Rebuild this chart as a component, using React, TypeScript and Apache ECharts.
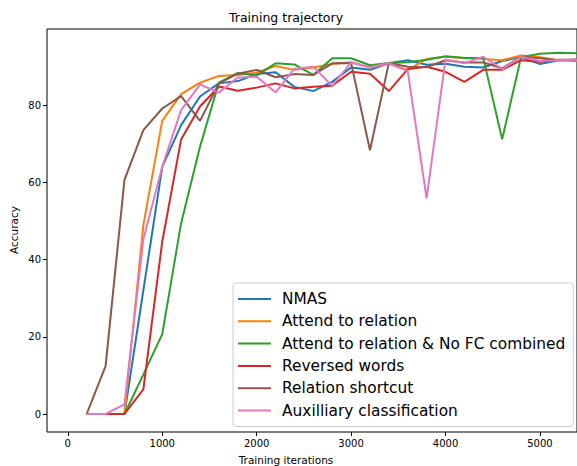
import React, { useEffect, useRef } from "react";
import * as echarts from "echarts";

const iterations = [200, 400, 600, 800, 1000, 1200, 1400, 1600, 1800, 2000, 2200, 2400, 2600, 2800, 3000, 3200, 3400, 3600, 3800, 4000, 4200, 4400, 4600, 4800, 5000, 5200, 5400];

const seriesNames = [
  "NMAS",
  "Attend to relation",
  "Attend to relation & No FC combined",
  "Reversed words",
  "Relation shortcut",
  "Auxilliary classification",
];

const nmas = [0, 0, 0, 32, 64, 74.8, 82.2, 85.6, 86.2, 88, 88.5, 84.7, 83.6, 86, 89.7, 89.1, 90.8, 91.6, 90.4, 90.7, 89.9, 89.7, 91.4, 92.4, 90.6, 91.6, 91.7];
const attendRelation = [0, 0, 0, 48.9, 75.9, 82.8, 85.8, 87.5, 87.8, 88.4, 90.1, 89.1, 89.7, 90.6, 91.1, 89.7, 90.7, 89.1, 91.9, 92.5, 92.2, 91.9, 91.6, 92.8, 92.4, 91.6, 91.3];
const attendNoFC = [0, 0, 0, 10.2, 20.7, 49.4, 69.2, 85.8, 88.3, 87.6, 90.8, 90.5, 87.8, 92.1, 92.1, 90.3, 90.9, 91.1, 91.7, 92.6, 92.2, 92.2, 71.1, 92.4, 93.3, 93.5, 93.4];
const reversedWords = [0, 0, 0, 6.4, 44.6, 71.1, 79.6, 84.8, 83.7, 84.5, 85.6, 84.3, 84.7, 85, 88.6, 88.1, 83.6, 89.3, 89.9, 88.6, 86, 89.1, 89.1, 91.6, 91.2, 91.7, 91.7];
const relationShortcut = [0, 12.4, 60.6, 73.5, 79.1, 82.3, 75.9, 85.6, 88.1, 89.1, 87.2, 88, 87.8, 90.8, 90.9, 68.3, 90.9, 89.9, 89.8, 91.6, 91, 91, 89.5, 92.5, 92.1, 91.6, 91.7];
const auxClassification = [0, 0, 2.5, 45.2, 64, 78.7, 85.3, 83.2, 87.1, 87.3, 83.3, 89.4, 89.9, 85, 91, 89.8, 90.8, 88.8, 55.8, 91.8, 90.8, 92.5, 89.3, 92.5, 91.4, 91.6, 91.7];

const allValues = [nmas, attendRelation, attendNoFC, reversedWords, relationShortcut, auxClassification];
const colors = ["#1f77b4", "#ff7f0e", "#2ca02c", "#d62728", "#8c564b", "#e377c2"];

const xTicks = [0, 1000, 2000, 3000, 4000, 5000];
const yTicks = [0, 20, 40, 60, 80];

const FONT = "DejaVu Sans";

export default function App() {
  const ref = useRef<HTMLDivElement>(null);

  useEffect(() => {
    if (!ref.current) return;
    const chart = echarts.init(ref.current, undefined, { renderer: "svg" });
    const option: any = {
      animation: false,
      backgroundColor: "#ffffff",
      grid: {
        left: 47,
        top: 29,
        width: 545,
        height: 403,
        show: true,
        borderColor: "#000000",
        borderWidth: 1,
        backgroundColor: "transparent",
      },
      xAxis: {
        type: "value",
        min: -220.4,
        max: 5392.4,
        splitLine: { show: false },
        axisLine: { show: false, onZero: false },
        axisTick: {
          show: true,
          length: 4,
          customValues: xTicks,
          lineStyle: { color: "#000000", width: 1 },
        },
        axisLabel: {
          customValues: xTicks,
          formatter: (v: number) => String(v),
          color: "#000000",
          fontSize: 10,
          fontFamily: FONT,
          margin: 6,
        },
      },
      yAxis: {
        type: "value",
        min: -4.66,
        max: 99.68,
        splitLine: { show: false },
        axisLine: { show: false, onZero: false },
        axisTick: {
          show: true,
          length: 4,
          customValues: yTicks,
          lineStyle: { color: "#000000", width: 1 },
        },
        axisLabel: {
          customValues: yTicks,
          formatter: (v: number) => String(v),
          color: "#000000",
          fontSize: 10,
          fontFamily: FONT,
          margin: 6,
        },
      },
      legend: {
        orient: "vertical",
        left: 233,
        top: 283,
        padding: [8, 8, 8, 5],
        itemWidth: 33,
        itemHeight: 2,
        itemGap: 6.3,
        icon: "rect",
        backgroundColor: "rgba(255,255,255,0.8)",
        borderColor: "#cccccc",
        borderWidth: 1,
        borderRadius: 3,
        data: seriesNames,
        textStyle: {
          fontSize: 15.4,
          lineHeight: 16,
          fontFamily: FONT,
          color: "#000000",
          padding: [0, 0, 0, 6],
        },
      },
      graphic: [
        {
          type: "text",
          x: 286,
          y: 17,
          style: {
            text: "Training trajectory",
            fontSize: 12.5,
            fontFamily: FONT,
            fill: "#000000",
            align: "center",
            verticalAlign: "middle",
          },
        },
        {
          type: "text",
          x: 286,
          y: 460,
          style: {
            text: "Training iterations",
            fontSize: 10.5,
            fontFamily: FONT,
            fill: "#000000",
            align: "center",
            verticalAlign: "middle",
          },
        },
        {
          type: "text",
          x: 14,
          y: 230,
          rotation: Math.PI / 2,
          style: {
            text: "Accuracy",
            fontSize: 10.5,
            fontFamily: FONT,
            fill: "#000000",
            align: "center",
            verticalAlign: "middle",
          },
        },
      ],
      series: seriesNames.map((name, i) => ({
        name,
        type: "line",
        symbol: "none",
        showSymbol: false,
        color: colors[i],
        lineStyle: { width: 2, color: colors[i] },
        data: iterations.map((x, j) => [x, allValues[i][j]]),
      })),
    };
    chart.setOption(option);
    return () => chart.dispose();
  }, []);

  return (
    <div
      ref={ref}
      style={{ position: "fixed", left: 0, top: 0, width: 577, height: 466 }}
    />
  );
}
